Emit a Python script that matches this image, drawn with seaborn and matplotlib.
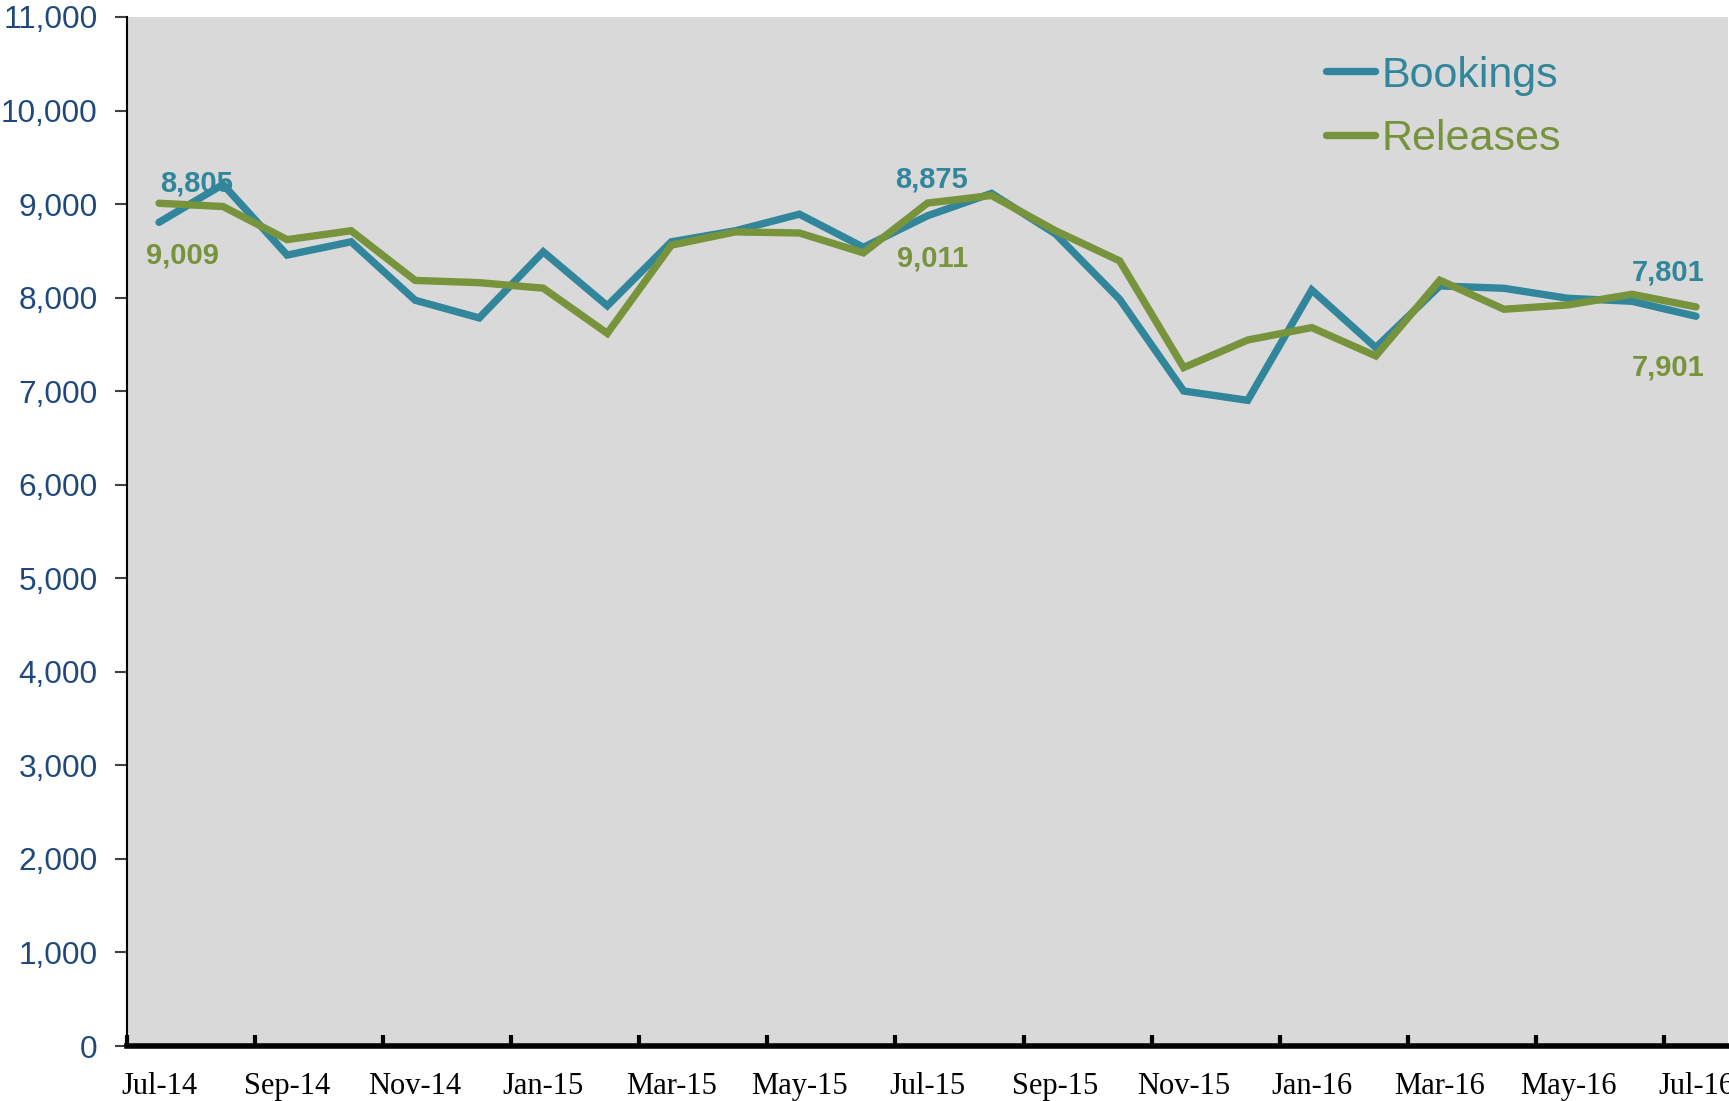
import numpy as np
import pandas as pd
import matplotlib
matplotlib.use("Agg")
import matplotlib.pyplot as plt
import seaborn as sns

months = ["Jul-14", "Aug-14", "Sep-14", "Oct-14", "Nov-14", "Dec-14", "Jan-15", "Feb-15",
          "Mar-15", "Apr-15", "May-15", "Jun-15", "Jul-15", "Aug-15", "Sep-15", "Oct-15",
          "Nov-15", "Dec-15", "Jan-16", "Feb-16", "Mar-16", "Apr-16", "May-16", "Jun-16", "Jul-16"]
bookings = [8805, 9210, 8455, 8597, 7972, 7783, 8490, 7913, 8597, 8715, 8892, 8538, 8875,
            9115, 8680, 7983, 7002, 6902, 8082, 7466, 8125, 8100, 7993, 7961, 7801]
releases = [9009, 8974, 8620, 8715, 8184, 8160, 8101, 7618, 8561, 8703, 8691, 8479, 9011,
            9092, 8715, 8393, 7252, 7547, 7680, 7377, 8186, 7876, 7922, 8036, 7901]
series_names = ["Bookings", "Releases"]
y_ticks = list(range(0, 11001, 1000))
label_idx = [0, 12, 24]

BLUE = "#31869B"
GREEN = "#77933C"

df = pd.DataFrame({
    "idx": list(range(len(months))) * 2,
    "month": months * 2,
    "value": bookings + releases,
    "series": [series_names[0]] * len(months) + [series_names[1]] * len(months),
})

sns.set_theme(style="white")
plt.rcParams["font.family"] = ["Liberation Sans", "DejaVu Sans"]

fig = plt.figure(figsize=(17.29, 11.01), dpi=100)
ax = fig.add_axes([127 / 1729, 55 / 1101, 1601 / 1729, 1029 / 1101])
ax.set_facecolor("#D9D9D9")

sns.lineplot(data=df, x="idx", y="value", hue="series", palette=[BLUE, GREEN],
             linewidth=5.3, sort=False, ax=ax, legend=True)
for ln in ax.lines:
    ln.set_solid_capstyle("round")
    ln.set_solid_joinstyle("miter")

ax.set_xlim(-0.5, len(months) - 0.5)
ax.set_ylim(0, 11000)
ax.set_xlabel("")
ax.set_ylabel("")

# y axis
ax.set_yticks(y_ticks)
ax.set_yticklabels([f"{v:,}" for v in y_ticks], color="#1F497D", fontsize=22.8,
                   family=["Liberation Sans", "DejaVu Sans"])
ax.tick_params(axis="y", direction="out", length=9, width=1.5, color="#404040", pad=12, left=True)

# x axis: tick marks at category boundaries every 2 months, labels at points
ax.set_xticks(np.arange(-0.5, len(months), 2))
ax.set_xticklabels([])
ax.tick_params(axis="x", which="major", direction="in", length=8, width=3, color="black", bottom=True)
ax.set_xticks(np.arange(0, len(months), 2), minor=True)
ax.set_xticklabels(months[::2], minor=True, fontsize=22,
                   family=["Liberation Serif", "DejaVu Serif"], color="black")
ax.tick_params(axis="x", which="minor", length=0, pad=19)

for s in ["top", "right"]:
    ax.spines[s].set_visible(False)
ax.spines["left"].set_color("black")
ax.spines["left"].set_linewidth(1.5)
ax.spines["bottom"].set_color("black")
ax.spines["bottom"].set_linewidth(4)
ax.grid(False)

# data labels
b_offsets = {0: (38, 39), 12: (4, 36), 24: (-28, 44)}
r_offsets = {0: (23, -52), 12: (5, -55), 24: (-28, -61)}
for i in label_idx:
    ax.annotate(f"{bookings[i]:,}", xy=(i, bookings[i]), xytext=b_offsets[i],
                textcoords="offset pixels", ha="center", va="center",
                color=BLUE, fontsize=21, fontweight="bold")
    ax.annotate(f"{releases[i]:,}", xy=(i, releases[i]), xytext=r_offsets[i],
                textcoords="offset pixels", ha="center", va="center",
                color=GREEN, fontsize=21, fontweight="bold")

leg = ax.legend(loc="upper left", bbox_to_anchor=(1304 / 1729, 1 - 34 / 1101),
                bbox_transform=fig.transFigure, frameon=False, fontsize=31,
                handlelength=1.15, handletextpad=0.15, labelspacing=0.55, borderpad=0,
                labelcolor="linecolor")
for h in leg.legend_handles:
    h.set_linewidth(5.3)
    h.set_solid_capstyle("round")

fig.savefig("out.png", dpi=100, facecolor="white")
